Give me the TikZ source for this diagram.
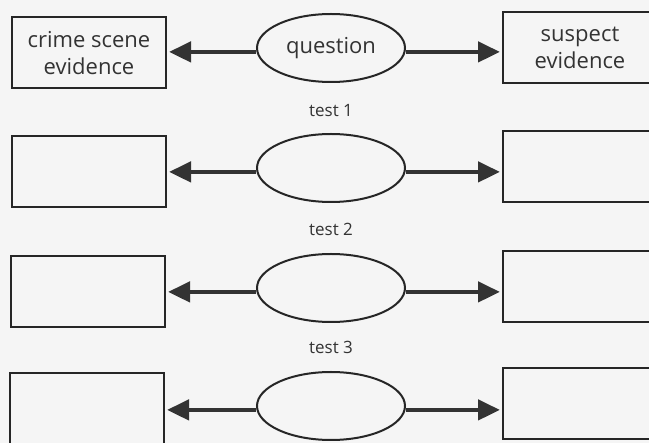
\documentclass[tikz,border=0pt]{standalone}
\usepackage{fontspec}
\setmainfont{Open Sans}
\usetikzlibrary{arrows.meta,shapes.geometric}
\begin{document}
\begin{tikzpicture}[x=1pt,y=-1pt,
  evbox/.style={draw=black!85,line width=2pt,minimum width=154pt,minimum height=71pt,inner sep=0pt,align=center,font=\fontsize{22}{27}\selectfont,text=black!80},
  qell/.style={draw=black!85,ellipse,line width=2pt,minimum width=148pt,minimum height=68pt,inner sep=0pt,font=\fontsize{22}{27}\selectfont,text=black!80},
  conn/.style={line width=4.5pt,draw=black!80,-{Triangle[length=22pt,width=20pt]},shorten >=2pt},
  testlbl/.style={font=\fontsize{17}{20}\selectfont,text=black!80}]
\clip (0,0) rectangle (649,443);
\fill[black!4] (0,0) rectangle (649,443);
% row 1
\node[evbox] (L1) at (89,53) {crime scene\\evidence};
\node[qell] (E1) at (331,48) {question};
\node[evbox] (R1) at (580,48) {suspect\\evidence};
\draw[conn] (E1.183) -- (E1.183 -| L1.east);
\draw[conn] (E1.-3) -- (E1.-3 -| R1.west);
\node[testlbl] (T1) at (331,111) {test 1};
% row 2
\node[evbox] (L2) at (89,171.5) {};
\node[qell] (E2) at (331,168) {};
\node[evbox] (R2) at (580,166.5) {};
\draw[conn] (E2.183) -- (E2.183 -| L2.east);
\draw[conn] (E2.-3) -- (E2.-3 -| R2.west);
\node[testlbl] (T2) at (331,229) {test 2};
% row 3
\node[evbox] (L3) at (88,292) {};
\node[qell] (E3) at (331,288) {};
\node[evbox] (R3) at (580,287) {};
\draw[conn] (E3.183) -- (E3.183 -| L3.east);
\draw[conn] (E3.-3) -- (E3.-3 -| R3.west);
\node[testlbl] (T3) at (331,347) {test 3};
% row 4
\node[evbox] (L4) at (87,409) {};
\node[qell] (E4) at (331,406) {};
\node[evbox] (R4) at (580,404) {};
\draw[conn] (E4.183) -- (E4.183 -| L4.east);
\draw[conn] (E4.-3) -- (E4.-3 -| R4.west);
\end{tikzpicture}
\end{document}
